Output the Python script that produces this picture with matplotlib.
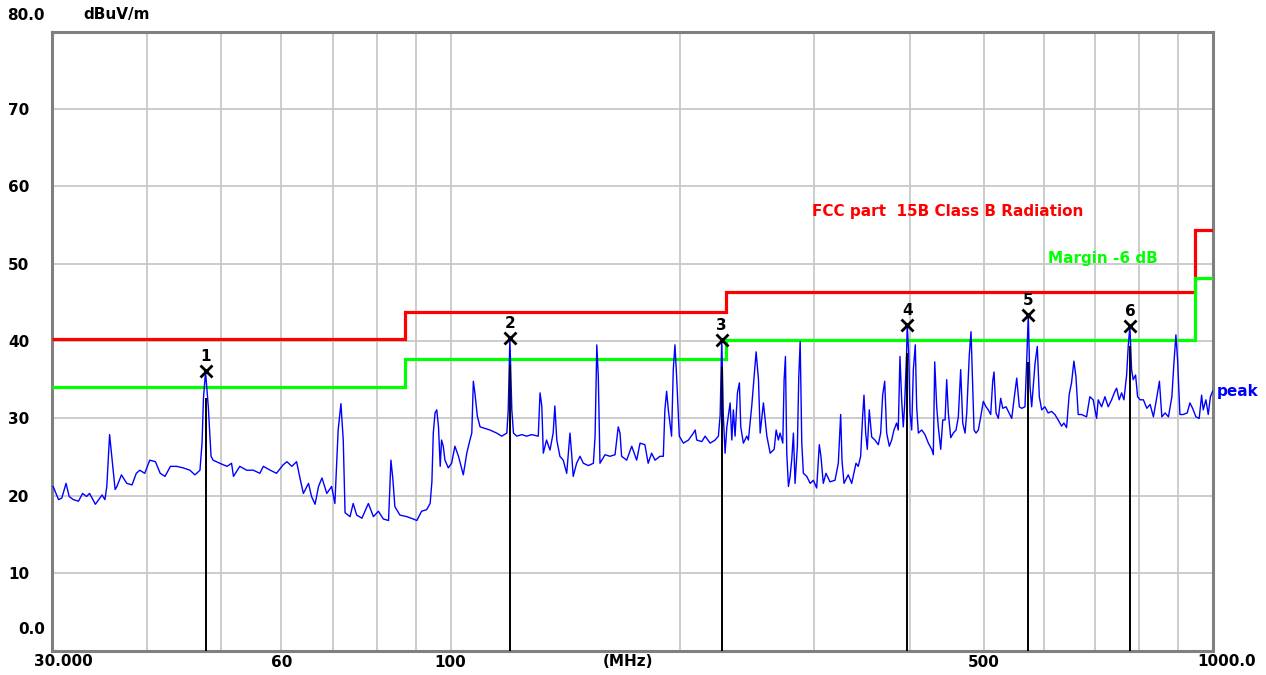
import matplotlib
matplotlib.use('Agg')
import matplotlib.pyplot as plt
from matplotlib.ticker import NullLocator

plt.rcParams['font.family'] = ['DejaVu Sans']
plt.rcParams['font.weight'] = 'bold'

# peak trace, MHz / dBuV/m
freq = [30.1, 30.6, 30.9, 31.3, 31.6, 32.0, 32.5, 32.9, 33.3, 33.6, 34.2, 34.9, 35.2, 35.4, 35.7, 35.9,
        36.3, 36.5, 37.0, 37.6, 38.2, 38.7, 39.1, 39.7, 40.3, 41.0, 41.6, 42.2, 42.9, 43.7, 44.6, 45.5,
        46.2, 46.9, 47.2, 47.4, 47.7, 48.1, 48.5, 48.8, 49.8, 50.9, 51.6, 51.9, 52.9, 54.0, 55.1, 56.2,
        56.8, 58.0, 59.1, 60.3, 61.0, 61.9, 62.8, 63.5, 64.1, 65.1, 65.7, 66.4, 67.1, 67.8, 68.8, 69.8,
        70.5, 71.2, 71.8, 72.3, 72.7, 73.8, 74.5, 75.3, 76.5, 78.0, 79.2, 80.4, 81.6, 82.9, 83.5, 84.0,
        84.5, 85.8, 87.6, 89.3, 90.3, 91.6, 93.0, 94.0,
        94.5, 94.9, 95.4, 95.9, 96.4, 96.9, 97.3, 97.8, 98.3, 99.3, 100.3, 101.3, 102.4, 103.9, 105.0, 106.0,
        106.6, 107.1, 107.6, 108.4, 109.3, 110.9, 112.6, 114.9, 116.7, 118.5, 119.0, 119.6, 120.3, 120.9,
        122.1, 124.0, 125.8, 127.7, 130.3, 131.0, 131.7, 132.3, 133.6, 135.0, 136.3, 137.0, 137.8, 139.1,
        140.5, 142.0, 142.7, 143.4, 144.1, 144.8, 146.3, 147.8, 149.3, 151.6, 153.9, 154.7, 155.5, 156.2,
        157.0, 159.4, 161.8, 164.3, 165.9, 166.8, 167.6, 170.2, 172.8, 175.4, 177.2, 179.8, 181.6, 183.5,
        185.4, 188.2, 190.1, 191.0, 192.0, 193.0, 194.9, 195.9, 196.9, 197.9, 199.5, 202.0, 205.1, 208.2,
        209.3, 210.3, 213.5, 215.7, 219.0, 222.3, 224.5, 225.7, 226.8, 227.9, 229.1, 230.3, 232.6, 233.8,
        234.9, 236.1, 237.8, 239.2, 240.2, 242.1, 244.6, 245.8, 248.3, 251.6, 253.4, 254.7, 257.2, 259.9,
        262.5,
        265.7, 267.3, 269.1, 270.5, 272.7, 273.8, 274.9, 276.0, 277.4, 278.8, 280.2, 281.6, 283.0, 285.0,
        286.2, 287.4, 288.8, 290.2, 293.2, 296.2, 299.1, 302.1, 304.5, 306.0, 308.2, 310.7, 314.5, 319.3,
        322.5, 324.8, 326.1, 328.1, 332.3, 335.8, 340.2, 342.5, 345.0, 347.1, 348.5, 350.3, 352.0, 354.1,
        356.7, 360.2, 363.9, 366.5, 368.7, 371.0, 373.2, 376.2, 378.9, 381.5, 384.6, 386.5, 388.5, 390.5,
        392.4, 394.0, 396.4, 397.1, 398.8, 400.5, 402.5, 404.5, 406.9, 408.6, 410.7, 414.9, 419.0, 423.3,
        427.6, 429.7, 431.5, 434.1, 436.2, 439.4, 442.1, 445.2, 447.4, 449.6, 452.9, 456.4, 460.2, 463.4,
        466.7, 469.6, 472.9, 475.3, 479.0, 481.5, 484.0, 485.9, 488.8, 492.3, 495.8, 499.7, 503.8, 507.3,
        511.0, 514.1, 516.1, 519.3, 522.9, 526.6, 530.0, 535.2, 538.9, 544.5, 548.2, 552.8, 557.1, 561.2,
        566.7, 569.7, 572.4, 575.4, 578.3, 584.2, 588.2, 591.8, 596.1, 601.8, 607.8, 614.1, 620.3, 626.5,
        633.0, 637.4, 642.6, 647.7, 652.3, 657.0, 661.0, 665.6, 672.5, 682.6, 689.4, 696.3, 703.6, 707.0,
        714.3, 721.5, 728.7, 736.2, 743.6, 747.4, 753.3, 758.8, 764.1, 770.4, 774.1, 778.0, 782.0, 785.8,
        791.5, 796.3, 802.4, 810.4, 818.9, 827.0, 835.3, 844.1, 850.6, 856.8, 865.4, 874.1, 883.2, 888.6,
        894.0, 898.6, 904.9, 914.0, 925.1, 932.7, 940.3, 949.7, 959.2, 966.2, 970.9, 978.8, 985.7, 992.2,
        998.9]
level = [21.2, 19.5, 19.7, 21.6, 19.9, 19.5, 19.3, 20.3, 19.9, 20.3, 18.9, 20.1, 19.5, 21.2, 27.9, 25.5,
         20.8, 21.2, 22.7, 21.6, 21.4, 22.9, 23.3, 22.9, 24.6, 24.4, 22.9, 22.5, 23.8, 23.8, 23.6, 23.3,
         22.7, 23.3, 26.8, 32.6, 36.0, 31.5, 25.1, 24.6, 24.2, 23.8, 24.2, 22.5, 23.8, 23.3, 23.3, 22.9,
         23.8, 23.3, 22.9, 24.0, 24.4, 23.8, 24.4, 22.1, 20.3, 21.6, 19.9, 18.9, 21.2, 22.3, 20.3, 21.2,
         19.0, 28.5, 31.9, 27.2, 17.8, 17.3, 19.0, 17.5, 17.1, 19.0, 17.3, 18.0, 17.0, 16.8, 24.6, 22.1,
         18.6, 17.5, 17.3, 17.0, 16.8, 18.0, 18.2, 19.0,
         21.8, 28.1, 30.7, 31.1, 28.9, 23.8, 27.2, 26.4, 24.6, 23.6, 24.2, 26.4, 25.1, 22.7, 25.5, 27.2,
         28.1, 34.8, 33.3, 30.3, 28.9, 28.7, 28.5, 28.1, 27.7, 28.1, 31.1, 40.3, 31.1, 28.1,
         27.7, 27.9, 27.7, 27.9, 27.7, 33.3, 31.6, 25.5, 27.2, 25.9, 28.1, 31.6, 27.2, 25.1,
         24.6, 22.9, 25.5, 28.1, 25.5, 22.5, 24.2, 25.1, 24.2, 23.9, 24.2, 27.7, 39.5, 35.4,
         24.2, 25.3, 25.1, 25.3, 28.9, 28.1, 25.1, 24.6, 26.4, 24.6, 26.8, 26.6, 24.2, 25.5,
         24.6, 25.1, 25.1, 31.1, 33.5, 31.1, 27.7, 36.3, 39.5, 35.4, 27.7, 26.8, 27.2, 28.1,
         28.5, 27.2, 27.0, 27.7, 26.8, 27.2, 27.7, 30.4, 40.3, 30.2, 25.5, 28.9, 32.0, 27.2,
         31.1, 27.7, 33.3, 34.6, 28.9, 26.8, 27.7, 27.2, 31.6, 38.6, 35.0, 28.1, 32.0, 27.7,
         25.5,
         26.0, 28.5, 27.2, 28.1, 26.8, 35.0, 38.0, 25.5, 21.2, 22.5, 24.7, 28.1, 21.6, 26.4,
         35.4, 39.9, 26.8, 22.9, 22.5, 21.6, 22.0, 21.0, 26.6, 25.1, 21.6, 22.9, 21.8, 22.0,
         24.2, 30.5, 24.6, 21.6, 22.7, 21.6, 24.2, 23.8, 25.1, 30.3, 33.0, 28.1, 26.0, 31.1,
         27.6, 27.2, 26.6, 28.1, 33.0, 34.8, 28.1, 26.4, 27.2, 28.5, 29.4, 28.5, 38.0, 32.4,
         28.9, 31.7, 38.6, 42.1, 38.6, 30.7, 28.5, 36.3, 39.5, 31.5, 28.1, 28.5, 27.9, 26.8,
         26.0, 25.3, 37.3, 31.5, 28.9, 26.0, 29.8, 29.8, 35.0, 30.7, 27.5, 28.1, 28.5, 30.2,
         36.3, 29.4, 28.1, 30.7, 38.2, 41.2, 34.1, 28.5, 28.1, 28.5, 30.2, 32.2, 31.5, 31.1,
         30.5, 34.8, 36.0, 30.7, 30.0, 32.6, 31.3, 31.5, 30.9, 30.0, 32.4, 35.2, 31.5, 31.3,
         31.5, 37.4, 43.4, 34.1, 31.5, 37.1, 39.3, 32.8, 31.1, 31.5, 30.7, 30.9, 30.5, 29.8,
         29.0, 29.4, 28.8, 33.1, 34.6, 37.4, 35.4, 30.5, 30.5, 30.2, 32.8, 32.4, 30.0, 32.4,
         31.5, 32.8, 31.5, 32.4, 33.5, 33.9, 32.4, 33.3, 32.4, 35.6, 39.3, 41.9, 36.3, 35.0,
         35.6, 32.8, 32.4, 32.4, 31.3, 31.8, 30.2, 32.8, 34.8, 30.2, 30.7, 30.2, 32.8, 37.1,
         40.8, 37.5, 30.5, 30.5, 30.7, 32.0, 31.3, 30.2, 30.0, 33.0, 31.1, 32.4, 30.5, 32.8,
         33.5]

# limit lines
limit_edges = [30, 87, 230, 947, 1000]
limit_fcc = [40.2, 43.8, 46.3, 54.3]
limit_margin = [34.1, 37.7, 40.1, 48.1]

# markers
mk_freq = [47.7, 119.6, 226.8, 397.1, 572.4, 778.0]
mk_peak = [36.1, 40.4, 40.1, 42.1, 43.4, 41.9]
mk_line = [32.6, 36.9, 36.7, 38.5, 37.3, 39.3]

x_grid = [40, 50, 60, 70, 80, 90, 100, 200, 300, 400, 500, 600, 700, 800, 900]
x_labels = {60: '60', 100: '100', 500: '500'}
y_ticks = [10, 20, 30, 40, 50, 60, 70]

W, H = 1266, 675
fig = plt.figure(figsize=(W / 100, H / 100), dpi=100)
ax = fig.add_axes([52 / W, 24.5 / H, 1161 / W, 619 / H])
ax.set_xscale('log')
ax.set_xlim(30, 1000)
ax.set_ylim(0, 80)

ax.xaxis.set_minor_locator(NullLocator())
ax.set_xticks(x_grid, labels=[x_labels.get(v, '') for v in x_grid])
ax.set_yticks(y_ticks, labels=[str(v) for v in y_ticks])
for lbl in ax.get_yticklabels():
    lbl.set_horizontalalignment('left')
ax.tick_params(length=0, labelsize=11)
ax.tick_params(axis='y', pad=44 / 1.389)
ax.tick_params(axis='x', pad=3)
ax.grid(True, color='#c8c8c8', lw=1.3)
ax.set_axisbelow(True)
for s in ax.spines.values():
    s.set_color('#808080')
    s.set_linewidth(2.2)

ax.stairs(limit_fcc, limit_edges, baseline=None, color='#ff0000', lw=2.3, zorder=3)
ax.stairs(limit_margin, limit_edges, baseline=None, color='#00ff00', lw=2.3, zorder=3)
ax.plot(freq, level, color='#0000ff', lw=1.0, zorder=4)

ax.vlines(mk_freq, 0, mk_line, colors='black', lw=1.4, zorder=5)
ax.plot(mk_freq, mk_peak, 'x', color='black', ms=9, mew=2, zorder=6)
for i, (f, p) in enumerate(zip(mk_freq, mk_peak)):
    ax.annotate(str(i + 1), (f, p), xytext=(0, 10.5), textcoords='offset points',
                ha='center', va='center', fontsize=11, fontweight='bold')

ax.text(298, 56.7, 'FCC part  15B Class B Radiation', color='#ff0000', fontsize=11,
        ha='left', va='center')
ax.text(607, 50.7, 'Margin -6 dB', color='#00ff00', fontsize=11, ha='left', va='center')
ax.text(1012, level[-1], 'peak', color='#0000ff', fontsize=11, ha='left', va='center',
        clip_on=False)

fig.text(7 / W, 1 - 15 / H, '80.0', fontsize=11, ha='left', va='center')
fig.text(18 / W, 1 - 630 / H, '0.0', fontsize=11, ha='left', va='center')
fig.text(83 / W, 1 - 15 / H, 'dBuV/m', fontsize=11, ha='left', va='center')
fig.text(34 / W, 1 - 661 / H, '30.000', fontsize=11, ha='left', va='center')
fig.text(628 / W, 1 - 661 / H, '(MHz)', fontsize=11, ha='center', va='center')
fig.text(1227 / W, 1 - 661 / H, '1000.0', fontsize=11, ha='center', va='center')

fig.savefig('out.png', dpi=100, facecolor='white')
